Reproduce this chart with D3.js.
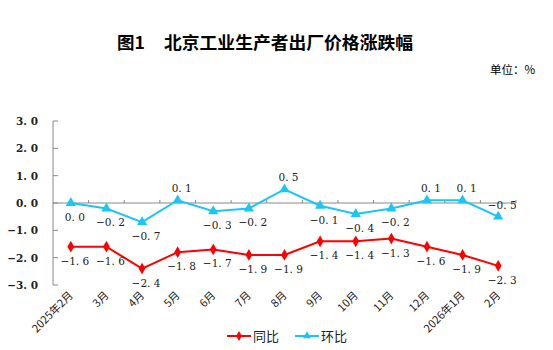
<!DOCTYPE html>
<html><head><meta charset="utf-8">
<script src="https://cdn.jsdelivr.net/npm/d3@7"></script>
<style>body{margin:0;background:#fff}svg{display:block}</style>
</head><body>
<script>
const categories = ["2025年2月","3月","4月","5月","6月","7月","8月","9月","10月","11月","12月","2026年1月","2月"];
const yoy = [-1.6,-1.6,-2.4,-1.8,-1.7,-1.9,-1.9,-1.4,-1.4,-1.3,-1.6,-1.9,-2.3];
const mom = [0.0,-0.2,-0.7,0.1,-0.3,-0.2,0.5,-0.1,-0.4,-0.2,0.1,0.1,-0.5];
const yTicks = [3,2,1,0,-1,-2,-3];
const seriesNames = ["同比","环比"];

const W=553,H=350;
const svg=d3.select("body").append("svg").attr("width",W).attr("height",H);
const RED="#FF0000", BLUE="#1CC6F4";
const numFont="'DejaVu Serif', serif";
const fmt=v=>{const s=d3.format(".1f")(Math.abs(v)).replace(".",". ");return (v<0?"−":"")+s;};

const x=d3.scaleBand().domain(categories).range([53,516]);
const y=d3.scaleLinear().domain([-3,3]).range([285,121]);
const cx=c=>x(c)+x.bandwidth()/2;

// title
svg.append("text").attr("x",117).attr("y",49)
  .attr("font-family","'Noto Sans CJK SC'").attr("font-weight","bold").attr("font-size",17.5)
  .text("图1");
svg.append("text").attr("x",164).attr("y",49).attr("textLength",249).attr("lengthAdjust","spacingAndGlyphs")
  .attr("font-family","'Noto Sans CJK SC'").attr("font-weight","bold").attr("font-size",17.5)
  .text("北京工业生产者出厂价格涨跌幅");
svg.append("text").attr("x",535).attr("y",74).attr("text-anchor","end")
  .attr("font-family","'Noto Sans CJK SC'").attr("font-size",11.5).text("单位：%");

// y axis
const ya=svg.append("g");
ya.append("line").attr("x1",53).attr("x2",53).attr("y1",y(3)).attr("y2",y(-3)).attr("stroke","#888").attr("stroke-width",1);
yTicks.forEach(t=>{
  ya.append("line").attr("x1",53).attr("x2",58).attr("y1",y(t)).attr("y2",y(t)).attr("stroke","#888");
  ya.append("text").attr("x",38).attr("y",y(t)+4).attr("text-anchor","end")
    .attr("font-family",numFont).attr("font-weight","bold").attr("font-size",10.5).attr("fill","#222").text(fmt(t));
});
// zero/category axis
svg.append("line").attr("x1",53).attr("x2",516).attr("y1",y(0)).attr("y2",y(0)).attr("stroke","#888");
categories.forEach(c=>{
  const xx=x(c)+x.bandwidth();
  svg.append("line").attr("x1",xx).attr("x2",xx).attr("y1",y(0)-3).attr("y2",y(0)).attr("stroke","#888");
});
// x labels
categories.forEach(c=>{
  svg.append("text").attr("transform",`translate(${cx(c)+3},${296}) rotate(-45)`)
    .attr("text-anchor","end").attr("font-family","'Noto Sans CJK SC'").attr("font-size",11).attr("fill","#222").text(c);
});

const line=d3.line().x((d,i)=>cx(categories[i])).y(d=>y(d));
// yoy
svg.append("path").datum(yoy).attr("d",line).attr("fill","none").attr("stroke",RED).attr("stroke-width",2);
svg.selectAll(".dm").data(yoy).join("path").attr("d",d3.symbol(d3.symbolDiamond,40))
  .attr("transform",(d,i)=>`translate(${cx(categories[i])},${y(d)})`).attr("fill",RED);
svg.selectAll(".ly").data(yoy).join("text").attr("x",(d,i)=>cx(categories[i])+4).attr("y",d=>y(d)+18)
  .attr("text-anchor","middle").attr("font-family",numFont).attr("font-size",10.5).attr("fill","#222").text(fmt);
// mom
svg.append("path").datum(mom).attr("d",line).attr("fill","none").attr("stroke",BLUE).attr("stroke-width",2);
svg.selectAll(".tr").data(mom).join("path").attr("d",d3.symbol(d3.symbolTriangle,45))
  .attr("transform",(d,i)=>`translate(${cx(categories[i])},${y(d)})`).attr("fill",BLUE);
svg.selectAll(".lm").data(mom).join("text").attr("x",(d,i)=>cx(categories[i])+4)
  .attr("y",(d,i)=>(d>0||i===mom.length-1)?y(d)-8:y(d)+18)
  .attr("text-anchor","middle").attr("font-family",numFont).attr("font-size",10.5).attr("fill","#222").text(fmt);

// legend
const lg=[{n:seriesNames[0],c:RED,s:d3.symbolDiamond,x0:227},{n:seriesNames[1],c:BLUE,s:d3.symbolTriangle,x0:295}];
lg.forEach(l=>{
  svg.append("line").attr("x1",l.x0).attr("x2",l.x0+24).attr("y1",336).attr("y2",336).attr("stroke",l.c).attr("stroke-width",2);
  svg.append("path").attr("d",d3.symbol(l.s,28)).attr("transform",`translate(${l.x0+12},336)`).attr("fill",l.c);
  svg.append("text").attr("x",l.x0+26).attr("y",341).attr("font-family","'Noto Sans CJK SC'").attr("font-size",13).attr("fill","#222").text(l.n);
});
</script>
</body></html>
